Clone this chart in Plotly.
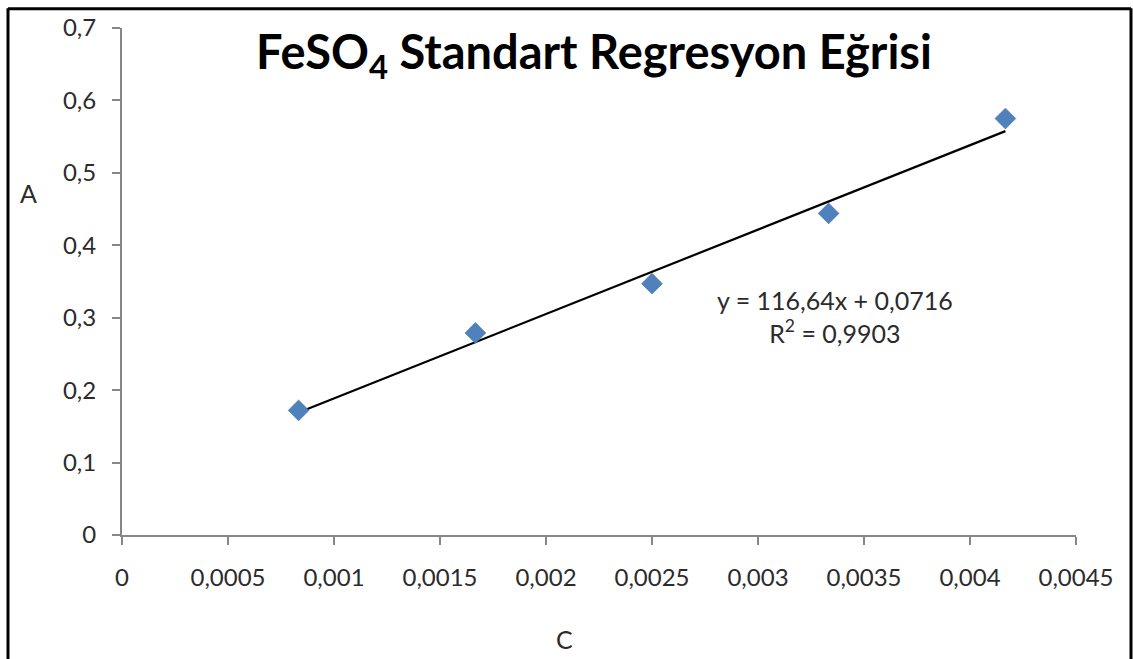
import numpy as np
import plotly.graph_objects as go

# Data (concentration C vs absorbance A)
conc = [0.000833, 0.001667, 0.0025, 0.003333, 0.004167]
absorb = [0.172, 0.279, 0.347, 0.444, 0.575]
x_ticks = [0, 0.0005, 0.001, 0.0015, 0.002, 0.0025, 0.003, 0.0035, 0.004, 0.0045]
x_ticktext = ["0", "0,0005", "0,001", "0,0015", "0,002", "0,0025", "0,003", "0,0035", "0,004", "0,0045"]
y_ticks = [0, 0.1, 0.2, 0.3, 0.4, 0.5, 0.6, 0.7]
y_ticktext = ["0", "0,1", "0,2", "0,3", "0,4", "0,5", "0,6", "0,7"]
eq_text = "y = 116,64x + 0,0716<br>R<sup>2</sup> = 0,9903"

# Linear trendline from data
slope, intercept = np.polyfit(conc, absorb, 1)
trend_x = [min(conc), max(conc)]
trend_y = [slope * v + intercept for v in trend_x]

W, H = 1133, 659
L, R, T, B = 122, 57, 23, 124
pw, ph = W - L - R, H - T - B

def px(xpix):
    return (xpix - L) / pw

def py(ypix):
    return 1 - (ypix - T) / ph

FONT = "Lato, Carlito, Calibri, sans-serif"
AX = "#878787"
TXT = "#2b2b2b"

fig = go.Figure()
fig.add_trace(go.Scatter(x=trend_x, y=trend_y, mode="lines",
                         line=dict(color="black", width=2.2), hoverinfo="skip"))
fig.add_trace(go.Scatter(x=conc, y=absorb, mode="markers",
                         marker=dict(symbol="diamond", size=16, color="#4F81BD",
                                     line=dict(color="#3E6FA8", width=0.6))))

fig.update_layout(
    width=W, height=H,
    margin=dict(l=L, r=R, t=T, b=B),
    paper_bgcolor="white", plot_bgcolor="white",
    showlegend=False,
    font=dict(family=FONT, size=24, color=TXT),
    title=dict(text="FeSO<sub>4</sub> Standart Regresyon Eğrisi",
               font=dict(family=FONT, size=47, color="black", weight="bold"),
               xref="container", x=594 / W, xanchor="center",
               yref="container", y=1 - 53 / H, yanchor="middle"),
    xaxis=dict(range=[0, 0.0045], tickvals=x_ticks, ticktext=x_ticktext,
               showgrid=False, zeroline=False, showline=True, linecolor=AX, linewidth=2,
               ticks="outside", ticklen=8, tickwidth=2, tickcolor=AX,
               ticklabelstandoff=12, tickfont=dict(size=24, color=TXT)),
    yaxis=dict(range=[0, 0.7], tickvals=y_ticks, ticktext=y_ticktext,
               showgrid=False, zeroline=False, showline=True, linecolor=AX, linewidth=2,
               ticks="outside", ticklen=8, tickwidth=2, tickcolor=AX,
               ticklabelstandoff=11, tickfont=dict(size=24, color=TXT)),
)

fig.add_annotation(text=eq_text, xref="paper", yref="paper",
                   x=px(835), y=py(314), xanchor="center", yanchor="middle",
                   showarrow=False, align="center",
                   font=dict(family=FONT, size=25, color=TXT))
fig.add_annotation(text="A", xref="paper", yref="paper", x=px(28), y=py(190),
                   xanchor="center", yanchor="middle", showarrow=False,
                   font=dict(family=FONT, size=25, color=TXT))
fig.add_annotation(text="C", xref="paper", yref="paper", x=px(564), y=py(640),
                   xanchor="center", yanchor="middle", showarrow=False,
                   font=dict(family=FONT, size=25, color=TXT))

# Outer frame (left, top, right)
frame = dict(color="black", width=3)
fig.add_shape(type="line", xref="paper", yref="paper", x0=px(8), x1=px(8), y0=py(3), y1=py(H + 5), line=frame)
fig.add_shape(type="line", xref="paper", yref="paper", x0=px(8), x1=px(1131), y0=py(3.5), y1=py(3.5), line=frame)
fig.add_shape(type="line", xref="paper", yref="paper", x0=px(1131), x1=px(1131), y0=py(3), y1=py(H + 5), line=frame)

fig.write_html("out.html", config={"displayModeBar": False},
               post_script="document.body.style.margin='0';document.body.style.overflow='hidden';")
